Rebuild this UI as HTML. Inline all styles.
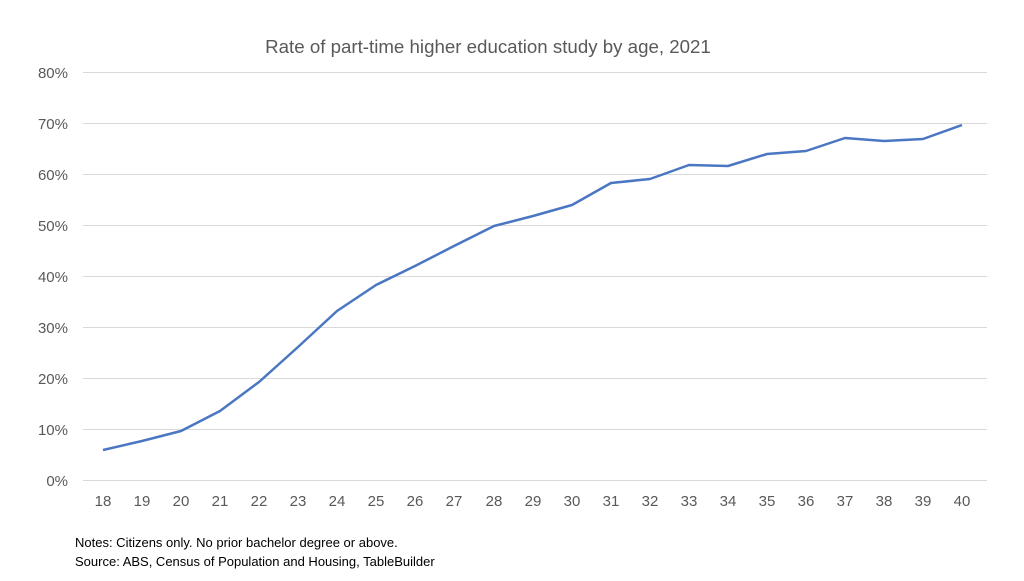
<!DOCTYPE html>
<html><head><meta charset="utf-8"><style>
body{margin:0;background:#fff;font-family:"Liberation Sans",sans-serif;}
</style></head><body>
<svg width="1024" height="576" xmlns="http://www.w3.org/2000/svg" font-family="Liberation Sans, sans-serif">
<rect width="1024" height="576" fill="#fff"/>
<text x="488" y="53" text-anchor="middle" font-size="18.7" fill="#595959">Rate of part-time higher education study by age, 2021</text>
<g stroke="#d9d9d9" stroke-width="1">
<line x1="83" x2="987" y1="72.5" y2="72.5"/><line x1="83" x2="987" y1="123.5" y2="123.5"/>
<line x1="83" x2="987" y1="174.5" y2="174.5"/><line x1="83" x2="987" y1="225.5" y2="225.5"/>
<line x1="83" x2="987" y1="276.5" y2="276.5"/><line x1="83" x2="987" y1="327.5" y2="327.5"/>
<line x1="83" x2="987" y1="378.5" y2="378.5"/><line x1="83" x2="987" y1="429.5" y2="429.5"/>
<line x1="83" x2="987" y1="480.5" y2="480.5"/>
</g>
<g font-size="15" fill="#595959" text-anchor="end">
<text x="68" y="78">80%</text><text x="68" y="129">70%</text><text x="68" y="180">60%</text>
<text x="68" y="231">50%</text><text x="68" y="282">40%</text><text x="68" y="333">30%</text>
<text x="68" y="384">20%</text><text x="68" y="435">10%</text><text x="68" y="486">0%</text>
</g>
<g font-size="15" fill="#595959" text-anchor="middle">
<text x="103" y="506">18</text><text x="142" y="506">19</text><text x="181" y="506">20</text>
<text x="220" y="506">21</text><text x="259" y="506">22</text><text x="298" y="506">23</text>
<text x="337" y="506">24</text><text x="376" y="506">25</text><text x="415" y="506">26</text>
<text x="454" y="506">27</text><text x="494" y="506">28</text><text x="533" y="506">29</text>
<text x="572" y="506">30</text><text x="611" y="506">31</text><text x="650" y="506">32</text>
<text x="689" y="506">33</text><text x="728" y="506">34</text><text x="767" y="506">35</text>
<text x="806" y="506">36</text><text x="845" y="506">37</text><text x="884" y="506">38</text>
<text x="923" y="506">39</text><text x="962" y="506">40</text>
</g>
<polyline fill="none" stroke="#4a76c2" stroke-width="2.5" stroke-linejoin="round"
points="103,450 142,441 181,431 220,411 259,382 298,347 337,311 376,285 415,266 454,246 494,226 533,216 572,205 611,183 650,179 689,165 728,166 767,154 806,151 845,138 884,141 923,139 962,125"/>
<text x="75" y="547" font-size="13" fill="#000">Notes: Citizens only. No prior bachelor degree or above.</text>
<text x="75" y="566" font-size="13" fill="#000">Source: ABS, Census of Population and Housing, TableBuilder</text>
</svg>
</body></html>
